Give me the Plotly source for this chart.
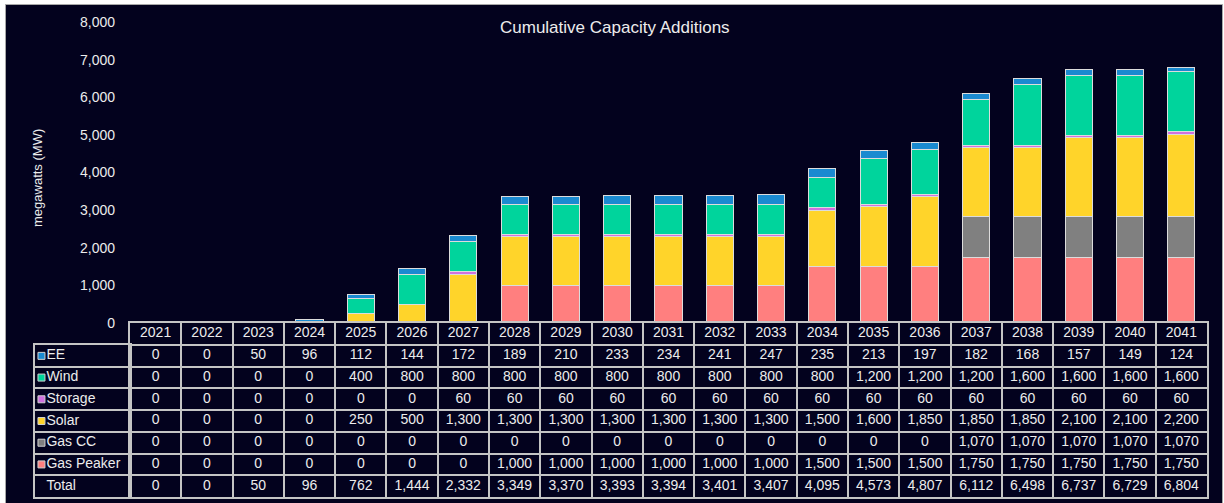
import plotly.graph_objects as go

W, H = 1224, 503

years = [str(y) for y in range(2021, 2042)]
ee = [0, 0, 50, 96, 112, 144, 172, 189, 210, 233, 234, 241, 247, 235, 213, 197, 182, 168, 157, 149, 124]
wind = [0, 0, 0, 0, 400, 800, 800, 800, 800, 800, 800, 800, 800, 800, 1200, 1200, 1200, 1600, 1600, 1600, 1600]
storage = [0, 0, 0, 0, 0, 0, 60, 60, 60, 60, 60, 60, 60, 60, 60, 60, 60, 60, 60, 60, 60]
solar = [0, 0, 0, 0, 250, 500, 1300, 1300, 1300, 1300, 1300, 1300, 1300, 1500, 1600, 1850, 1850, 1850, 2100, 2100, 2200]
gas_cc = [0, 0, 0, 0, 0, 0, 0, 0, 0, 0, 0, 0, 0, 0, 0, 0, 1070, 1070, 1070, 1070, 1070]
gas_peaker = [0, 0, 0, 0, 0, 0, 0, 1000, 1000, 1000, 1000, 1000, 1000, 1500, 1500, 1500, 1750, 1750, 1750, 1750, 1750]

series_names = ["EE", "Wind", "Storage", "Solar", "Gas CC", "Gas Peaker"]
series_values = [ee, wind, storage, solar, gas_cc, gas_peaker]
series_colors = ["#1a8ad0", "#00d49c", "#d070e0", "#ffd42a", "#808080", "#ff7f7f"]

y_ticks = [0, 1000, 2000, 3000, 4000, 5000, 6000, 7000, 8000]

totals = [sum(v[i] for v in series_values) for i in range(len(years))]

BG = "#03021e"
LINE = "#c4c4c4"
TXT = "#ececec"
FONT = "Liberation Sans, Arial, sans-serif"

fig = go.Figure()

# stacked bars, bottom to top
for name, vals, col in reversed(list(zip(series_names, series_values, series_colors))):
    fig.add_trace(go.Bar(
        x=years, y=vals, name=name, marker=dict(color=col, line=dict(color="#dcdcdc", width=1)),
        xaxis="x", yaxis="y", showlegend=False, hoverinfo="x+y+name"))

# data table cells
row_keys = ["Year"] + series_names + ["Total"]
cx, cy, ct = [], [], []
for i, yr in enumerate(years):
    cx.append(yr); cy.append("Year"); ct.append(yr)
    for name, vals in zip(series_names, series_values):
        cx.append(yr); cy.append(name); ct.append(f"{vals[i]:,}")
    cx.append(yr); cy.append("Total"); ct.append(f"{totals[i]:,}")
fig.add_trace(go.Scatter(x=cx, y=cy, text=ct, mode="text", xaxis="x2", yaxis="y2",
                         textfont=dict(size=14, color=TXT, family=FONT), hoverinfo="skip",
                         showlegend=False))

# row labels with colour keys
label_rows = series_names + ["Total"]
fig.add_trace(go.Scatter(x=[0.068] * len(series_names), y=series_names, mode="markers",
                         marker=dict(symbol="square", size=7, color=series_colors,
                                     line=dict(color="#d0d0d0", width=1)),
                         xaxis="x3", yaxis="y3", hoverinfo="skip", showlegend=False))
fig.add_trace(go.Scatter(x=[0.12] * len(label_rows), y=label_rows, text=label_rows, mode="text",
                         textposition="middle right",
                         textfont=dict(size=14, color=TXT, family=FONT),
                         xaxis="x3", yaxis="y3", hoverinfo="skip", showlegend=False))

x_dom = [130 / W, 1207 / W]
x_rng = [-0.5, len(years) - 0.5]
fig.update_layout(
    width=W, height=H, autosize=False,
    margin=dict(l=0, r=0, t=0, b=0, pad=0, autoexpand=False),
    paper_bgcolor="white", plot_bgcolor="rgba(0,0,0,0)",
    barmode="stack", bargap=0.47,
    font=dict(family=FONT, color=TXT, size=14),
    xaxis=dict(domain=x_dom, type="category", categoryorder="array", categoryarray=years,
               range=x_rng, automargin=False,
               showticklabels=False, showgrid=False, zeroline=False, showline=False,
               anchor="y"),
    yaxis=dict(domain=[1 - 323 / H, 1 - 22 / H], range=[0, 8000], tickvals=y_ticks,
               tickformat=",", showgrid=False, zeroline=False, showline=False, automargin=False,
               ticks="", ticklabelstandoff=14, tickfont=dict(size=14, color=TXT),
               anchor="x"),
    xaxis2=dict(domain=x_dom, type="category", categoryorder="array", categoryarray=years,
                range=x_rng, automargin=False,
                tickson="boundaries", showgrid=True, gridcolor=LINE, gridwidth=2,
                showline=True, linecolor=LINE, linewidth=2, mirror=True,
                showticklabels=False, ticks="", zeroline=False, anchor="y2"),
    yaxis2=dict(domain=[1 - 497 / H, 1 - 323 / H], type="category", categoryorder="array",
                categoryarray=row_keys, range=[len(row_keys) - 0.5, -0.5], automargin=False,
                tickson="boundaries", showgrid=True, gridcolor=LINE, gridwidth=2,
                showline=True, linecolor=LINE, linewidth=2, mirror=True,
                showticklabels=False, ticks="", zeroline=False, anchor="x2"),
    xaxis3=dict(domain=[35 / W, 130 / W], range=[0, 1], showgrid=False, zeroline=False,
                automargin=False,
                showticklabels=False, ticks="", showline=True, linecolor=LINE, linewidth=2,
                mirror=True, anchor="y3"),
    yaxis3=dict(domain=[1 - 497 / H, 1 - 345 / H], type="category", categoryorder="array",
                categoryarray=label_rows, range=[len(label_rows) - 0.5, -0.5], automargin=False,
                tickson="boundaries", showgrid=True, gridcolor=LINE, gridwidth=2,
                showline=True, linecolor=LINE, linewidth=2, mirror=True,
                showticklabels=False, ticks="", zeroline=False, anchor="x3"),
    shapes=[dict(type="rect", xref="paper", yref="paper", x0=5.5 / W, x1=1222.5 / W,
                 y0=-0.01, y1=1 - 4.5 / H, fillcolor=BG, line=dict(color="#a8a8a8", width=1),
                 layer="below")],
    annotations=[
        dict(text="Cumulative Capacity Additions", xref="paper", yref="paper",
             x=615 / W, y=1 - 27.5 / H, xanchor="center", yanchor="middle", showarrow=False,
             font=dict(size=17, color=TXT, family=FONT)),
        dict(text="megawatts (MW)", xref="paper", yref="paper", x=37 / W, y=1 - 178 / H,
             xanchor="center", yanchor="middle", textangle=-90, showarrow=False,
             font=dict(size=13, color=TXT, family=FONT)),
    ],
)

fig.write_html("out.html", config={"displayModeBar": False},
               post_script="document.body.style.margin='0';document.body.style.overflow='hidden';")
